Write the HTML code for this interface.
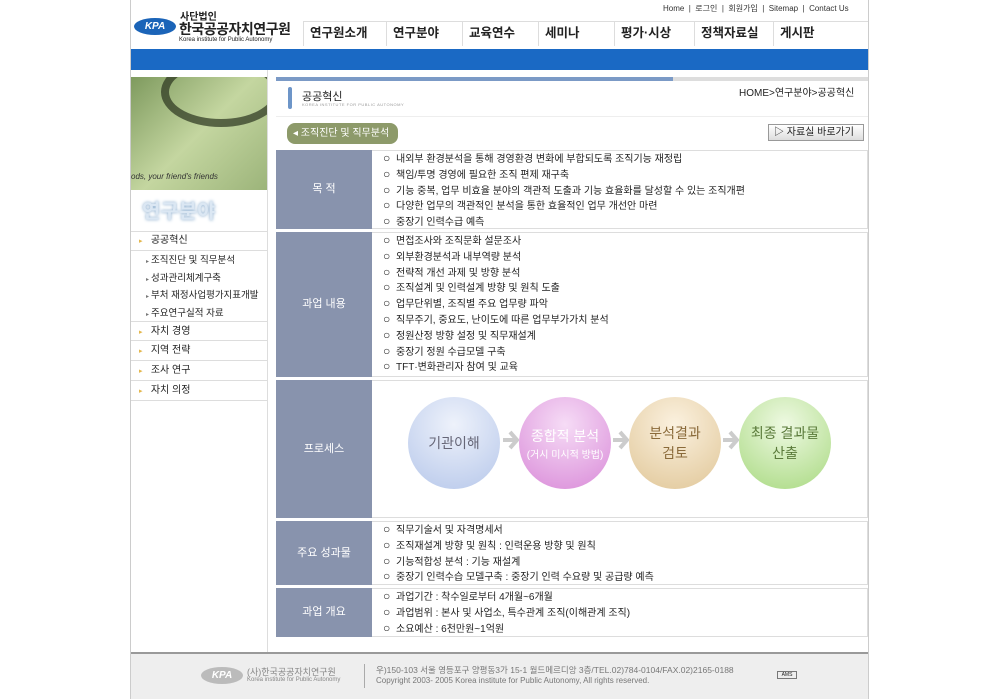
<!DOCTYPE html>
<html><head><meta charset="utf-8">
<style>
*{margin:0;padding:0;box-sizing:border-box}
body{width:1000px;height:699px;background:#fff;position:relative;overflow:hidden;font-family:"Liberation Sans","Noto Sans CJK KR",sans-serif;color:#222}
.a{position:absolute}
.wrap{left:130px;top:0;width:739px;height:699px;border-left:1px solid #ccc;border-right:1px solid #ccc}
.nav{top:21px;height:25px;font-size:12.5px;font-weight:bold;color:#222;line-height:22px;border-top:1px solid #ddd;border-left:1px solid #ddd;padding-left:6px}
.lbl{background:#8893ad;color:#fff;font-size:11px;text-align:center;left:276px;width:96px}
.box{left:372px;width:496px;border-top:1px solid #ddd;border-bottom:1px solid #ddd;border-right:1px solid #ddd}
.lst{font-size:10px;line-height:15.8px;padding-left:11px;padding-top:1px;white-space:nowrap}
.lst b{font-weight:normal;font-size:12px;display:inline-block;width:13px;line-height:10px}
.side{left:131px;width:136px;font-size:10px;border-bottom:1px solid #ddd;height:20px;line-height:19px}
.sub{left:146px;font-size:9.5px;height:17px;line-height:17px;white-space:nowrap}
.sub i{font-style:normal;font-size:6px;color:#777;display:inline-block;width:5px;line-height:6px}
.circ{border-radius:50%;width:92px;height:92px;top:397px;text-align:center;display:flex;align-items:center;justify-content:center;flex-direction:column;font-size:14px}
.arr{top:426px;width:18px;height:28px}
</style></head><body>
<div class="a wrap"></div>
<div class="a" style="left:663px;top:3px;font-size:8px;color:#333">Home &nbsp;|&nbsp; 로그인 &nbsp;|&nbsp; 회원가입 &nbsp;|&nbsp; Sitemap &nbsp;|&nbsp; Contact Us</div>
<div class="a" style="left:134px;top:18px;width:42px;height:17px;border-radius:50%;background:#1b64b8;color:#fff;font-size:10px;font-weight:bold;font-style:italic;text-align:center;line-height:17px">KPA</div>
<div class="a" style="left:180px;top:8px;font-size:10px;font-weight:bold">사단법인</div>
<div class="a" style="left:179px;top:19px;font-size:14px;font-weight:bold;letter-spacing:-0.5px">한국공공자치연구원</div>
<div class="a" style="left:179px;top:37px;font-size:6px">Korea institute for Public Autonomy</div>
<div class="a nav" style="left:303px;width:83px">연구원소개</div>
<div class="a nav" style="left:386px;width:76px">연구분야</div>
<div class="a nav" style="left:462px;width:76px">교육연수</div>
<div class="a nav" style="left:538px;width:76px">세미나</div>
<div class="a nav" style="left:614px;width:80px">평가·시상</div>
<div class="a nav" style="left:694px;width:79px">정책자료실</div>
<div class="a nav" style="left:773px;width:95px;border-right:none">게시판</div>
<div class="a" style="left:131px;top:49px;width:737px;height:21px;background:#1a69c4"></div>
<div class="a" style="left:131px;top:77px;width:136px;height:113px;background:linear-gradient(135deg,#7e9a5e,#c4d6a0 50%,#9cb47a);overflow:hidden">
<div class="a" style="left:30px;top:-20px;width:120px;height:70px;border:8px solid #2a331e;border-radius:50%;opacity:.7"></div>
<div class="a" style="left:0;top:95px;width:136px;font-size:8px;font-style:italic;color:#333">ods, your friend's friends</div></div>
<div class="a" style="left:142px;top:195px;font-size:20px;font-weight:bold;color:#dbe7f3;text-shadow:0 0 3px #7fa4c8">연구분야</div>
<div class="a" style="left:131px;top:231px;width:136px;border-top:1px solid #ddd"></div>
<div class="a side" style="top:231px;padding-left:8px"><span style="color:#e3b64a;font-size:7px">▸</span>&nbsp;&nbsp; 공공혁신</div>
<div class="a sub" style="top:252px"><i>▸</i>조직진단 및 직무분석</div>
<div class="a sub" style="top:270px"><i>▸</i>성과관리체계구축</div>
<div class="a sub" style="top:287px"><i>▸</i>부처 재정사업평가지표개발</div>
<div class="a sub" style="top:305px"><i>▸</i>주요연구실적 자료</div>
<div class="a side" style="top:321px;padding-left:8px;border-top:1px solid #ddd"><span style="color:#e3b64a;font-size:7px">▸</span>&nbsp;&nbsp; 자치 경영</div>
<div class="a side" style="top:341px;padding-left:8px"><span style="color:#e3b64a;font-size:7px">▸</span>&nbsp;&nbsp; 지역 전략</div>
<div class="a side" style="top:361px;padding-left:8px"><span style="color:#e3b64a;font-size:7px">▸</span>&nbsp;&nbsp; 조사 연구</div>
<div class="a side" style="top:381px;padding-left:8px"><span style="color:#e3b64a;font-size:7px">▸</span>&nbsp;&nbsp; 자치 의정</div>
<div class="a" style="left:267px;top:70px;height:582px;border-left:1px solid #ddd"></div>
<div class="a" style="left:276px;top:77px;width:592px;height:4px;background:#ddd"></div>
<div class="a" style="left:276px;top:77px;width:397px;height:4px;background:#7b9ac6"></div>
<div class="a" style="left:288px;top:87px;width:4px;height:22px;background:#6d95c8;border-radius:2px"></div>
<div class="a" style="left:302px;top:88px;font-size:11px">공공혁신</div>
<div class="a" style="left:302px;top:102px;font-size:4px;color:#999;letter-spacing:0.5px">KOREA INSTITUTE FOR PUBLIC AUTONOMY</div>
<div class="a" style="left:739px;top:84px;font-size:10px">HOME&gt;연구분야&gt;공공혁신</div>
<div class="a" style="left:276px;top:116px;width:592px;border-top:1px solid #eee"></div>
<div class="a" style="left:287px;top:123px;width:111px;height:21px;background:#8d9a6a;border-radius:8px;color:#fff;font-size:10px;line-height:21px;padding-left:6px">◂ 조직진단 및 직무분석</div>
<div class="a" style="left:768px;top:124px;width:96px;height:17px;border:1px solid #999;background:linear-gradient(#fff,#ddd);font-size:10px;line-height:15px;padding-left:5px">▷ 자료실 바로가기</div>
<div class="a lbl" style="top:150px;height:79px;line-height:79px">목 적</div>
<div class="a box lst" style="top:150px;height:79px"><b>○</b>내외부 환경분석을 통해 경영환경 변화에 부합되도록 조직기능 재정립<br><b>○</b>책임/투명 경영에 필요한 조직 편제 재구축<br><b>○</b>기능 중복, 업무 비효율 분야의 객관적 도출과 기능 효율화를 달성할 수 있는 조직개편<br><b>○</b>다양한 업무의 객관적인 분석을 통한 효율적인 업무 개선안 마련<br><b>○</b>중장기 인력수급 예측</div>
<div class="a lbl" style="top:232px;height:145px;line-height:145px">과업 내용</div>
<div class="a box lst" style="top:232px;height:145px"><b>○</b>면접조사와 조직문화 설문조사<br><b>○</b>외부환경분석과 내부역량 분석<br><b>○</b>전략적 개선 과제 및 방향 분석<br><b>○</b>조직설계 및 인력설계 방향 및 원칙 도출<br><b>○</b>업무단위별, 조직별 주요 업무량 파악<br><b>○</b>직무주기, 중요도, 난이도에 따른 업무부가가치 분석<br><b>○</b>정원산정 방향 설정 및 직무재설계<br><b>○</b>중장기 정원 수급모델 구축<br><b>○</b>TFT·변화관리자 참여 및 교육</div>
<div class="a lbl" style="top:380px;height:138px;line-height:138px">프로세스</div>
<div class="a box" style="top:380px;height:138px"></div>
<svg class="a arr" style="left:501px" viewBox="0 0 18 28"><path d="M2 14H15M9 6l7 8-7 8" fill="none" stroke="#ccc" stroke-width="4"/></svg>
<svg class="a arr" style="left:611px" viewBox="0 0 18 28"><path d="M2 14H15M9 6l7 8-7 8" fill="none" stroke="#ccc" stroke-width="4"/></svg>
<svg class="a arr" style="left:721px" viewBox="0 0 18 28"><path d="M2 14H15M9 6l7 8-7 8" fill="none" stroke="#ccc" stroke-width="4"/></svg>
<div class="a circ" style="left:408px;background:radial-gradient(circle at 50% 30%,#eef2fb,#b6c7ea);color:#667">기관이해</div>
<div class="a circ" style="left:519px;background:radial-gradient(circle at 50% 30%,#f6dcf6,#d98ad8);color:#fff;font-size:14px">종합적 분석<span style="font-size:10px">(거시 미시적 방법)</span></div>
<div class="a circ" style="left:629px;background:radial-gradient(circle at 50% 30%,#fbf1df,#e0c697);color:#8a6a3a">분석결과<br>검토</div>
<div class="a circ" style="left:739px;background:radial-gradient(circle at 50% 30%,#eef9e2,#a8d980);color:#5a7a3a">최종 결과물<br>산출</div>
<div class="a lbl" style="top:521px;height:64px;line-height:64px">주요 성과물</div>
<div class="a box lst" style="top:521px;height:64px"><b>○</b>직무기술서 및 자격명세서<br><b>○</b>조직재설계 방향 및 원칙 : 인력운용 방향 및 원칙<br><b>○</b>기능적합성 분석 : 기능 재설계<br><b>○</b>중장기 인력수습 모델구축 : 중장기 인력 수요량 및 공급량 예측</div>
<div class="a lbl" style="top:588px;height:49px;line-height:49px">과업 개요</div>
<div class="a box lst" style="top:588px;height:49px"><b>○</b>과업기간 : 착수일로부터 4개월~6개월<br><b>○</b>과업범위 : 본사 및 사업소, 특수관계 조직(이해관계 조직)<br><b>○</b>소요예산 : 6천만원~1억원</div>
<div class="a" style="left:131px;top:652px;width:737px;height:47px;background:#eee;border-top:2px solid #999"></div>
<div class="a" style="left:201px;top:667px;width:42px;height:17px;border-radius:50%;background:#bbb;color:#fff;font-size:10px;font-weight:bold;font-style:italic;text-align:center;line-height:17px">KPA</div>
<div class="a" style="left:247px;top:665px;font-size:9px;color:#888">(사)한국공공자치연구원</div>
<div class="a" style="left:247px;top:677px;font-size:6px;color:#888">Korea institute for Public Autonomy</div>
<div class="a" style="left:364px;top:664px;height:24px;border-left:1px solid #aaa"></div>
<div class="a" style="left:376px;top:664px;font-size:8.5px;color:#777">우)150-103 서울 영등포구 양평동3가 15-1 월드메르디앙 3층/TEL.02)784-0104/FAX.02)2165-0188</div>
<div class="a" style="left:376px;top:676px;font-size:8px;color:#777">Copyright 2003- 2005 Korea institute for Public Autonomy, All rights reserved.</div>
<div class="a" style="left:777px;top:671px;width:20px;height:8px;border:1px solid #777;font-size:5px;text-align:center;line-height:6px">AMS</div>
</body></html>
